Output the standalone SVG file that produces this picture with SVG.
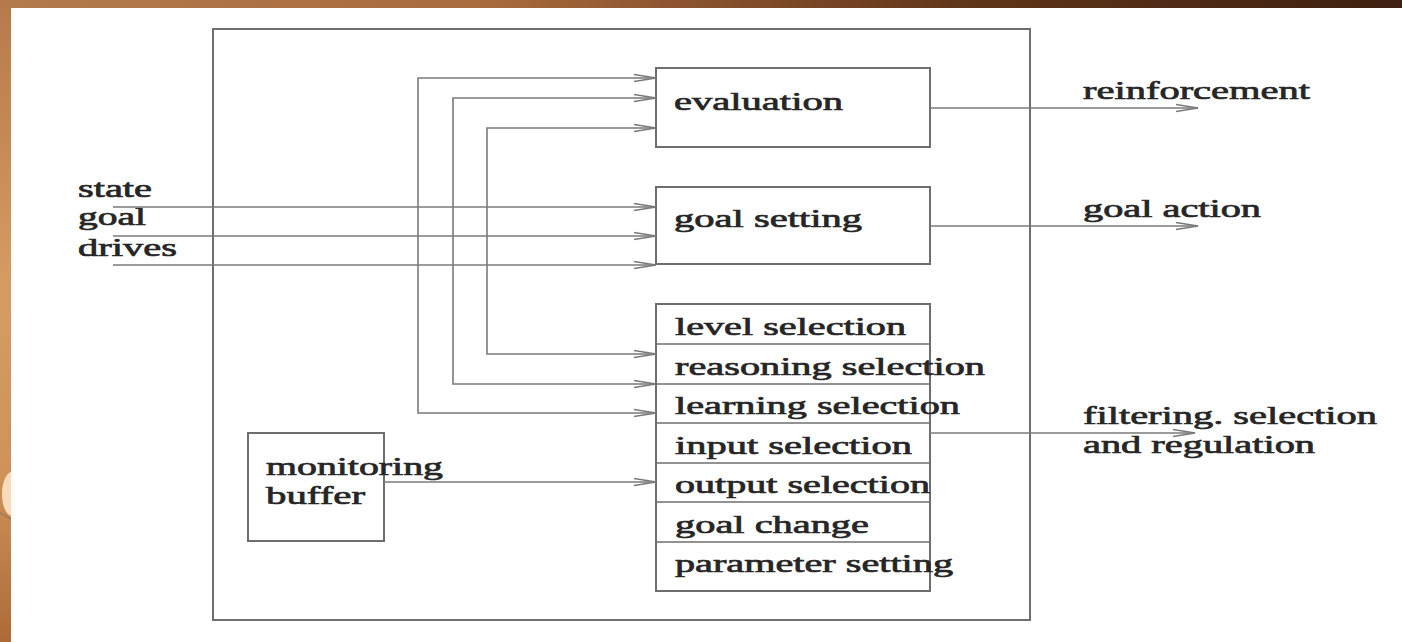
<svg xmlns="http://www.w3.org/2000/svg" width="1402" height="642" viewBox="0 0 1402 642">
  <defs>
    <linearGradient id="topBand" x1="0" y1="0" x2="1" y2="0">
      <stop offset="0" stop-color="#b27b4c"/>
      <stop offset="0.35" stop-color="#a8693d"/>
      <stop offset="0.7" stop-color="#5e3318"/>
      <stop offset="1" stop-color="#3d2010"/>
    </linearGradient>
    <linearGradient id="sideBand" x1="0" y1="0" x2="0" y2="1">
      <stop offset="0" stop-color="#b57a4a"/>
      <stop offset="0.45" stop-color="#d59c62"/>
      <stop offset="0.75" stop-color="#cf9157"/>
      <stop offset="1" stop-color="#ad6a38"/>
    </linearGradient>
    <clipPath id="sideClip"><rect x="0" y="0" width="11" height="642"/></clipPath>
    <marker id="arrow" markerUnits="userSpaceOnUse" markerWidth="26" markerHeight="12" viewBox="-24 -6 26 12" refX="0" refY="0" orient="auto-start-reverse" overflow="visible">
      <path d="M-22,-3.5 L0,0 L-22,3.5" fill="none" stroke="#7a7a7a" stroke-width="1.6"/>
    </marker>
    <style>
      .box { fill: none; stroke: #6e6e6e; stroke-width: 2; }
      .sep { stroke: #6e6e6e; stroke-width: 1.6; }
      .wire { fill: none; stroke: #7a7a7a; stroke-width: 1.6; }
      .lbl { font-family: "Liberation Serif", "Times New Roman", serif; font-size: 26px; font-weight: normal; fill: #262626; stroke: #262626; stroke-width: 0.7; }
    </style>
  </defs>

  <!-- page background with slide frame -->
  <rect x="0" y="0" width="1402" height="642" fill="#ffffff"/>
  <rect x="0" y="0" width="1402" height="8" fill="url(#topBand)"/>
  <rect x="0" y="0" width="11" height="642" fill="url(#sideBand)"/>
  <g clip-path="url(#sideClip)">
    <ellipse cx="12" cy="494" rx="10" ry="22" fill="#f6dcbc"/>
    <path d="M0,513 L11,519" stroke="#9a7a5e" stroke-width="1.5"/>
  </g>

  <!-- enclosing system boundary -->
  <g id="system">
    <rect class="box" x="213" y="29" width="817" height="591"/>
  </g>

  <g id="evaluation">
    <rect class="box" x="656" y="68" width="274" height="79"/>
    <text class="lbl" x="674" y="110" textLength="169" lengthAdjust="spacingAndGlyphs">evaluation</text>
  </g>

  <g id="goal-setting">
    <rect class="box" x="656" y="187" width="274" height="77"/>
    <text class="lbl" x="674" y="227" textLength="188" lengthAdjust="spacingAndGlyphs">goal setting</text>
  </g>

  <g id="selection-stack">
    <rect class="box" x="656" y="304" width="274" height="287"/>
    <line class="sep" x1="656" y1="344" x2="930" y2="344"/>
    <line class="sep" x1="656" y1="384" x2="930" y2="384"/>
    <line class="sep" x1="656" y1="423" x2="930" y2="423"/>
    <line class="sep" x1="656" y1="463" x2="930" y2="463"/>
    <line class="sep" x1="656" y1="502" x2="930" y2="502"/>
    <line class="sep" x1="656" y1="542" x2="930" y2="542"/>
    <text class="lbl" x="675" y="335" textLength="231" lengthAdjust="spacingAndGlyphs">level selection</text>
    <text class="lbl" x="675" y="375" textLength="310" lengthAdjust="spacingAndGlyphs">reasoning selection</text>
    <text class="lbl" x="675" y="414" textLength="285" lengthAdjust="spacingAndGlyphs">learning selection</text>
    <text class="lbl" x="675" y="454" textLength="237" lengthAdjust="spacingAndGlyphs">input selection</text>
    <text class="lbl" x="675" y="493" textLength="255" lengthAdjust="spacingAndGlyphs">output selection</text>
    <text class="lbl" x="675" y="533" textLength="194" lengthAdjust="spacingAndGlyphs">goal change</text>
    <text class="lbl" x="675" y="572" textLength="278" lengthAdjust="spacingAndGlyphs">parameter setting</text>
  </g>

  <g id="monitoring-buffer">
    <rect class="box" x="248" y="433" width="136" height="108"/>
    <text class="lbl" x="266" y="475" textLength="177" lengthAdjust="spacingAndGlyphs">monitoring</text>
    <text class="lbl" x="266" y="504" textLength="99" lengthAdjust="spacingAndGlyphs">buffer</text>
  </g>

  <g id="inputs">
    <text class="lbl" x="78" y="197" textLength="74" lengthAdjust="spacingAndGlyphs">state</text>
    <text class="lbl" x="78" y="225" textLength="68" lengthAdjust="spacingAndGlyphs">goal</text>
    <text class="lbl" x="78" y="256" textLength="99" lengthAdjust="spacingAndGlyphs">drives</text>
  </g>

  <g id="outputs">
    <text class="lbl" x="1083" y="99" textLength="227" lengthAdjust="spacingAndGlyphs">reinforcement</text>
    <text class="lbl" x="1083" y="217" textLength="178" lengthAdjust="spacingAndGlyphs">goal action</text>
    <text class="lbl" x="1083" y="424" textLength="294" lengthAdjust="spacingAndGlyphs">filtering. selection</text>
    <text class="lbl" x="1083" y="453" textLength="232" lengthAdjust="spacingAndGlyphs">and regulation</text>
  </g>

  <g id="connectors">
    <!-- feedback loops between evaluation and the selection stack -->
    <path class="wire" d="M656,78 H418 V413 H656" marker-start="url(#arrow)" marker-end="url(#arrow)"/>
    <path class="wire" d="M656,98 H453 V384 H656" marker-start="url(#arrow)" marker-end="url(#arrow)"/>
    <path class="wire" d="M656,128 H487 V354 H656" marker-start="url(#arrow)" marker-end="url(#arrow)"/>
    <!-- external inputs into goal setting -->
    <path class="wire" d="M113,207 H656" marker-end="url(#arrow)"/>
    <path class="wire" d="M113,236 H656" marker-end="url(#arrow)"/>
    <path class="wire" d="M113,265 H656" marker-end="url(#arrow)"/>
    <!-- monitoring buffer into output selection -->
    <path class="wire" d="M384,482 H656" marker-end="url(#arrow)"/>
    <!-- outputs -->
    <path class="wire" d="M930,108 H1198" marker-end="url(#arrow)"/>
    <path class="wire" d="M930,226 H1198" marker-end="url(#arrow)"/>
    <path class="wire" d="M930,433 H1195" marker-end="url(#arrow)"/>
  </g>
</svg>
